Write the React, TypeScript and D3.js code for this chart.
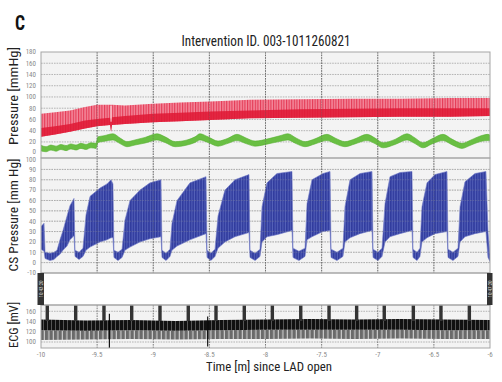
import React from 'react';
import * as d3 from 'd3';

// ---------- data ----------
const xTicks = [-10, -9.5, -9, -8.5, -8, -7.5, -7, -6.5, -6];
const xTickLabels = ['-10', '-9.5', '-9', '-8.5', '-8', '-7.5', '-7', '-6.5', '-6'];
const pressureTicks = [0, 20, 40, 60, 80, 100, 120, 140, 160, 180];
const csTicks = [-10, 0, 10, 20, 30, 40, 50, 60, 70, 80, 90, 100];
const ecgTicks = [100, 120, 140, 160];

// arterial pressure band (red)
const redT = [-10.0, -9.875, -9.742, -9.608, -9.501, -9.385, -9.376, -9.367, -9.252, -9.002, -8.762, -8.494, -8.138, -7.693, -7.247, -6.802, -6.356, -6.0];
const redHi = [70, 73, 76, 82, 86, 86, 86, 86, 85, 88, 90, 92, 95, 96, 97, 97, 98, 98];
const redMid = [45, 48, 52, 58, 61, 63, 60, 64, 66, 70, 72, 74, 76, 78, 79, 80, 80, 80];
const redLo = [29, 33, 38, 44, 48, 50, 38, 50, 52, 55, 57, 59, 62, 63, 64, 65, 65, 66];
const redGapT = -9.376;

// second pressure band (green)
const greenT = [-10.0, -9.955, -9.911, -9.866, -9.822, -9.777, -9.733, -9.688, -9.644, -9.599, -9.555, -9.51, -9.492, -9.439, -9.359, -9.296, -9.234, -9.163, -9.073, -8.967, -8.895, -8.806, -8.699, -8.628, -8.584, -8.512, -8.423, -8.334, -8.254, -8.174, -8.093, -7.978, -7.871, -7.8, -7.728, -7.648, -7.559, -7.452, -7.381, -7.292, -7.203, -7.096, -7.025, -6.953, -6.846, -6.739, -6.668, -6.597, -6.517, -6.419, -6.339, -6.25, -6.169, -6.08, -6.018, -6.0];
const greenC = [9, 7, 10, 8, 11, 9, 12, 10, 13, 11, 14, 13, 24, 26, 29, 22, 16, 19, 23, 29, 24, 16, 19, 24, 29, 24, 17, 22, 28, 22, 17, 21, 26, 29, 22, 16, 21, 28, 22, 16, 21, 28, 22, 14, 20, 29, 22, 14, 21, 28, 20, 13, 19, 26, 28, 27];
const greenHalf = [5, 4.5, 4.5, 4.5, 4.5, 4.5, 4.5, 4.5, 4.5, 4.5, 4.5, 4.5, 5, 5, 5.5, 5, 4.5, 4.5, 5, 5.5, 5, 4.5, 4.5, 5, 5.5, 5, 4.5, 4.5, 5.5, 5, 4.5, 4.5, 5, 5.5, 5, 4.5, 4.5, 5.5, 5, 4.5, 4.5, 5.5, 5, 4.5, 4.5, 5.5, 5, 4.5, 4.5, 5.5, 5, 4.5, 4.5, 5, 5.5, 5];

// coronary sinus pressure (blue)
const csT = [-10.0, -9.973, -9.964, -9.92, -9.884, -9.857, -9.831, -9.804, -9.768, -9.742, -9.706, -9.697, -9.661, -9.626, -9.599, -9.563, -9.474, -9.412, -9.376, -9.359, -9.35, -9.314, -9.278, -9.252, -9.207, -9.118, -9.029, -8.931, -8.922, -8.886, -8.851, -8.833, -8.788, -8.673, -8.53, -8.521, -8.486, -8.45, -8.423, -8.361, -8.272, -8.147, -8.138, -8.093, -8.049, -8.031, -7.987, -7.898, -7.764, -7.755, -7.702, -7.648, -7.63, -7.586, -7.488, -7.425, -7.416, -7.363, -7.31, -7.292, -7.247, -7.158, -7.051, -7.042, -6.998, -6.962, -6.935, -6.891, -6.802, -6.695, -6.686, -6.65, -6.624, -6.606, -6.561, -6.49, -6.383, -6.374, -6.33, -6.285, -6.267, -6.223, -6.134, -6.036, -6.018, -6.0];
const csHi = [35, 38, 10, 9, 10, 12, 22, 31, 45, 55, 62, 12, 10, 14, 46, 64, 72, 76, 80, 76, 12, 10, 13, 41, 60, 70, 77, 80, 12, 9, 13, 38, 60, 77, 83, 12, 9, 13, 45, 70, 80, 85, 12, 9, 13, 54, 77, 86, 88, 14, 11, 14, 57, 80, 86, 88, 13, 10, 14, 54, 80, 86, 88, 13, 10, 14, 57, 83, 87, 88, 13, 10, 14, 54, 77, 85, 88, 13, 10, 14, 54, 78, 86, 88, 30, 8];
const csLo = [13, 11, 4, 2, 3, 6, 8, 12, 16, 22, 26, 6, 3, 6, 12, 15, 20, 22, 24, 24, 5, 2, 5, 12, 15, 20, 23, 25, 5, 2, 6, 12, 16, 22, 28, 5, 2, 6, 14, 20, 25, 29, 5, 2, 6, 20, 25, 27, 31, 5, 2, 6, 22, 25, 30, 31, 5, 2, 6, 20, 24, 28, 31, 5, 2, 6, 20, 25, 28, 31, 5, 2, 6, 20, 24, 28, 30, 5, 2, 6, 20, 25, 28, 30, 5, 1];

// ECG
const ecgT = [-10.0, -9.6, -9.2, -8.8, -8.4, -8.0, -7.6, -7.2, -6.8, -6.4, -6.0];
const ecgHi = [144, 142, 143, 141, 143, 144, 145, 144, 145, 144, 143];
const ecgMid = [123, 122, 123, 122, 123, 124, 124, 124, 124, 123, 123];
const ecgLo = [104, 105, 106, 105, 106, 106, 107, 106, 107, 106, 106];
const ecgMarks = [-9.944, -9.691, -9.439, -9.192, -8.94, -8.688, -8.441, -8.189, -7.939, -7.686, -7.434, -7.188, -6.942, -6.683, -6.437, -6.184];
const ecgSpikeT = [-9.391, -8.515];
const ecgSpikeHi = [155, 150];
const ecgSpikeLo = [88.5, 91];

const timeStamps = ['10:43:20', '10:47:20'];

// ---------- layout ----------
const X0 = 41, X1 = 490;
const TOP = [52, 158];
const CS = [158, 273];
const STRIP = [273, 305];
const ECG = [305, 348];
const FONT = "'Liberation Sans Narrow', 'Roboto Condensed', 'DejaVu Sans Condensed', Roboto, 'Liberation Sans', sans-serif";

export default function App() {
  const x = d3.scaleLinear().domain([-10, -6]).range([X0, X1]);
  const yTop = d3.scaleLinear().domain([-8.6, 180]).range([TOP[1], TOP[0]]);
  const yCs = d3.scaleLinear().domain([-10, 101]).range([CS[1], CS[0]]);
  const yEcg = d3.scaleLinear().domain([88.3, 172.3]).range([ECG[1], ECG[0]]);

  const idx = (n: number) => d3.range(n);

  const redArea = d3.area<number>().x(i => x(redT[i])).y0(i => yTop(redLo[i])).y1(i => yTop(redHi[i]))(idx(redT.length)) || '';
  const redCore = d3.area<number>().x(i => x(redT[i])).y0(i => yTop(redLo[i])).y1(i => yTop(redMid[i]))(idx(redT.length)) || '';
  const greenArea = d3.area<number>().x(i => x(greenT[i])).y0(i => yTop(greenC[i] - greenHalf[i])).y1(i => yTop(greenC[i] + greenHalf[i])).curve(d3.curveMonotoneX)(idx(greenT.length)) || '';
  const csArea = d3.area<number>().x(i => x(csT[i])).y0(i => yCs(csLo[i])).y1(i => yCs(csHi[i]))(idx(csT.length)) || '';
  const ecgTopArea = d3.area<number>().x(i => x(ecgT[i])).y0(i => yEcg(ecgMid[i])).y1(i => yEcg(ecgHi[i]))(idx(ecgT.length)) || '';
  const ecgLowArea = d3.area<number>().x(i => x(ecgT[i])).y0(i => yEcg(ecgLo[i])).y1(i => yEcg(ecgMid[i]))(idx(ecgT.length)) || '';

  const vGrid = xTicks.slice(1, -1);

  const gridV = (y0: number, y1: number, op = 1) =>
    vGrid.map(t => (
      <line key={'v' + t + y0 + op} x1={x(t)} x2={x(t)} y1={y0} y2={y1} stroke="#5e5e5e" strokeWidth={0.8} strokeDasharray="1.6,1" opacity={op} />
    ));
  const gridH = (ticks: number[], sc: (v: number) => number, op = 1) =>
    ticks.map(t => (
      <line key={'h' + t + op} x1={X0} x2={X1} y1={sc(t)} y2={sc(t)} stroke="#9a9a9a" strokeWidth={0.7} strokeDasharray="1.6,1" opacity={op} />
    ));
  const tickLabels = (ticks: number[], sc: (v: number) => number, shift: (t: number) => number = () => 0) =>
    ticks.map(t => (
      <text key={'l' + t} x={36} y={sc(t) + shift(t)} dy="0.34em" textAnchor="end" fontSize={7} fill="#8a8a8a" fontFamily={FONT}>{t}</text>
    ));

  return (
    <svg width={502} height={382} style={{ display: 'block', position: 'absolute', left: 0, top: 0 }}>
      <defs>
        <pattern id="redStripe" width={2.6} height={10} patternUnits="userSpaceOnUse">
          <rect width={2.6} height={10} fill="#f3879a" />
          <rect width={1.1} height={10} fill="#e43a55" />
        </pattern>
        <pattern id="blueStripe" width={2.6} height={10} patternUnits="userSpaceOnUse">
          <rect width={2.6} height={10} fill="#5562ba" />
          <rect width={1.6} height={10} fill="#313c9e" />
        </pattern>
        <pattern id="ecgStripe" width={4} height={10} patternUnits="userSpaceOnUse">
          <rect width={4} height={10} fill="#111" />
          <rect x={3} width={1} height={10} fill="#555" />
        </pattern>
        <pattern id="ecgGray" width={4.5} height={10} patternUnits="userSpaceOnUse">
          <rect width={4.5} height={10} fill="#6a6a6a" />
          <rect x={3.3} width={1.2} height={10} fill="#c8c8c8" />
        </pattern>
        <clipPath id="clipTop"><rect x={X0} y={TOP[0]} width={X1 - X0} height={TOP[1] - TOP[0]} /></clipPath>
        <clipPath id="clipCs"><rect x={X0} y={CS[0]} width={X1 - X0} height={CS[1] - CS[0]} /></clipPath>
        <clipPath id="clipEcg"><rect x={X0} y={ECG[0]} width={X1 - X0} height={ECG[1] - ECG[0]} /></clipPath>
      </defs>
      <rect width={502} height={382} fill="#fff" />

      {/* panel letter and title */}
      <text x={15} y={30} fontSize={20} fontWeight="bold" fontFamily={FONT} textLength={10} lengthAdjust="spacingAndGlyphs" fill="#111">C</text>
      <text x={266} y={45.5} fontSize={14} textAnchor="middle" fontFamily={FONT} textLength={169} lengthAdjust="spacingAndGlyphs" fill="#222">Intervention ID. 003-1011260821</text>

      {/* backgrounds */}
      <rect x={X0} y={TOP[0]} width={X1 - X0} height={TOP[1] - TOP[0]} fill="#f3f3f3" />
      <rect x={X0} y={CS[0]} width={X1 - X0} height={CS[1] - CS[0]} fill="#f3f3f3" />
      <rect x={X0} y={STRIP[0]} width={X1 - X0} height={STRIP[1] - STRIP[0]} fill="#fff" />
      <rect x={X0} y={ECG[0]} width={X1 - X0} height={ECG[1] - ECG[0]} fill="#f3f3f3" />

      {/* grids under */}
      {gridH(pressureTicks.filter(t => t > 0 && t < 180), yTop)}
      {gridV(TOP[0], TOP[1])}
      {gridH(csTicks.filter(t => t > -10 && t < 100), yCs)}
      {gridV(CS[0], CS[1])}
      {gridH(ecgTicks, yEcg)}
      {gridV(ECG[0], ECG[1])}

      {/* top panel data */}
      <g clipPath="url(#clipTop)">
        <path d={redArea} fill="url(#redStripe)" />
        <path d={redCore} fill="#df1834" opacity={0.85} />
        <line x1={x(redGapT)} x2={x(redGapT)} y1={yTop(84)} y2={yTop(56)} stroke="#fbe3e6" strokeWidth={1} />
        <path d={greenArea} fill="#69bf43" stroke="#55b02f" strokeWidth={0.6} />
      </g>

      {/* CS panel */}
      <g clipPath="url(#clipCs)">
        <path d={csArea} fill="url(#blueStripe)" stroke="#6f79c6" strokeWidth={0.6} />
      </g>

      {/* ECG panel */}
      <g clipPath="url(#clipEcg)">
        <path d={ecgLowArea} fill="url(#ecgGray)" />
        <path d={ecgTopArea} fill="url(#ecgStripe)" />
        {ecgMarks.map(t => (
          <rect key={'m' + t} x={x(t) - 1.7} y={ECG[0]} width={3.4} height={yEcg(141) - ECG[0]} fill="#333" />
        ))}
        {ecgSpikeT.map((t, i) => (
          <line key={'s' + t} x1={x(t)} x2={x(t)} y1={yEcg(ecgSpikeHi[i])} y2={yEcg(ecgSpikeLo[i])} stroke="#000" strokeWidth={1.1} />
        ))}
      </g>

      {/* grids over (faint) */}
      {gridV(TOP[0], TOP[1], 0.45)}
      {gridH(csTicks.filter(t => t > -10 && t < 100), yCs, 0.45)}
      {gridV(CS[0], CS[1], 0.4)}

      {/* borders */}
      <rect x={X0} y={TOP[0]} width={X1 - X0} height={TOP[1] - TOP[0]} fill="none" stroke="#a5a5a5" strokeWidth={1} />
      <rect x={X0} y={CS[0]} width={X1 - X0} height={CS[1] - CS[0]} fill="none" stroke="#a5a5a5" strokeWidth={1} />
      <rect x={X0} y={STRIP[0]} width={X1 - X0} height={STRIP[1] - STRIP[0]} fill="none" stroke="#a5a5a5" strokeWidth={1} />
      <rect x={X0} y={ECG[0]} width={X1 - X0} height={ECG[1] - ECG[0]} fill="none" stroke="#a5a5a5" strokeWidth={1} />

      {/* time stamp markers */}
      <rect x={37.5} y={STRIP[0]} width={6.5} height={STRIP[1] - STRIP[0]} fill="#333" />
      <text transform={`translate(42.6,${(STRIP[0] + STRIP[1]) / 2}) rotate(-90)`} textAnchor="middle" fontSize={5} fill="#ddd" fontFamily={FONT}>{timeStamps[0]}</text>
      <rect x={487} y={STRIP[0]} width={5.5} height={STRIP[1] - STRIP[0]} fill="#333" />
      <text transform={`translate(491.6,${(STRIP[0] + STRIP[1]) / 2}) rotate(-90)`} textAnchor="middle" fontSize={5} fill="#ddd" fontFamily={FONT}>{timeStamps[1]}</text>

      {/* tick labels */}
      {tickLabels(pressureTicks, yTop, t => (t === 0 ? -1.2 : 0))}
      {tickLabels(csTicks, yCs, t => (t === 100 ? 1 : 0))}
      {tickLabels(ecgTicks, yEcg)}
      {xTicks.map((t, i) => (
        <text key={'x' + t} x={x(t)} y={355} dy="0.35em" textAnchor="middle" fontSize={7} fill="#8a8a8a" fontFamily={FONT}>{xTickLabels[i]}</text>
      ))}

      {/* axis titles */}
      <text transform="translate(17.5,96) rotate(-90)" textAnchor="middle" fontSize={13} fontFamily={FONT} textLength={98} lengthAdjust="spacingAndGlyphs" fill="#222">Pressure [mmHg]</text>
      <text transform="translate(17.5,215) rotate(-90)" textAnchor="middle" fontSize={13} fontFamily={FONT} textLength={113} lengthAdjust="spacingAndGlyphs" fill="#222">CS Pressure [mm Hg]</text>
      <text transform="translate(17.5,325) rotate(-90)" textAnchor="middle" fontSize={13} fontFamily={FONT} textLength={46} lengthAdjust="spacingAndGlyphs" fill="#222">ECG [mV]</text>
      <text x={269} y={371} textAnchor="middle" fontSize={12.5} fontFamily={FONT} textLength={126} lengthAdjust="spacingAndGlyphs" fill="#222">Time [m] since LAD open</text>
    </svg>
  );
}
